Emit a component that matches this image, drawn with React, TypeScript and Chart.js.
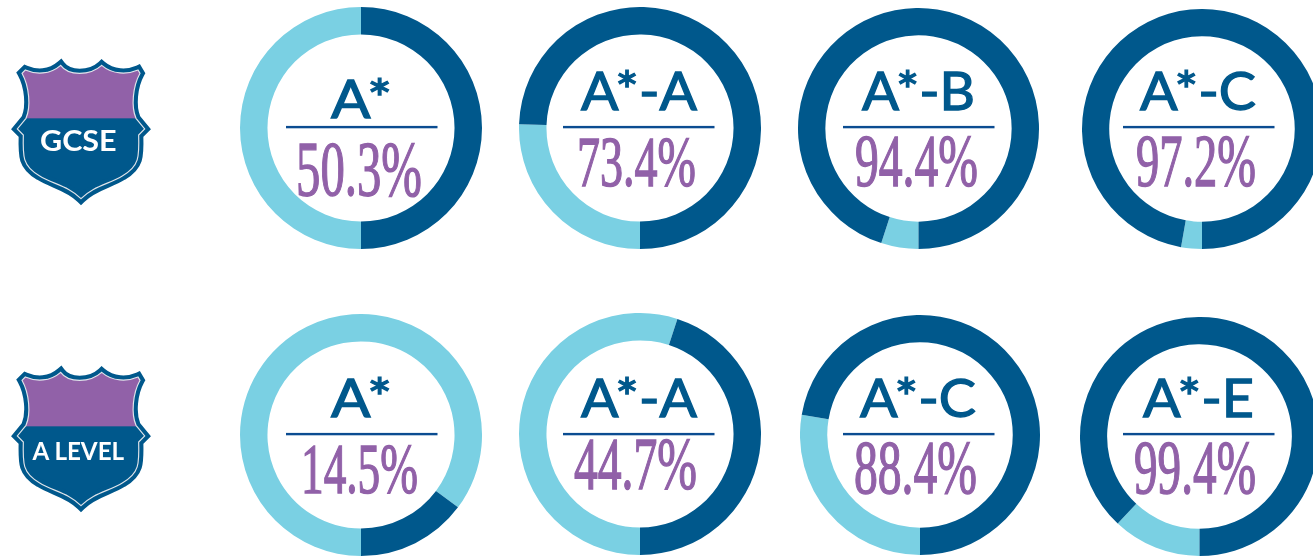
import React, { useEffect, useRef } from "react";
import { Chart, registerables } from "chart.js";

Chart.register(...registerables);

// ---- data ----
const gcseGrades = ["A*", "A*-A", "A*-B", "A*-C"];
const gcseLabels = ["50.3%", "73.4%", "94.4%", "97.2%"];
const gcseDarkShare = [50, 74.5, 95, 97.2];

const aLevelGrades = ["A*", "A*-A", "A*-C", "A*-E"];
const aLevelLabels = ["14.5%", "44.7%", "88.4%", "99.4%"];
const aLevelDarkShare = [14.8, 45, 72.3, 88];

const badgeNames = ["GCSE", "A LEVEL"];

// ---- layout and style ----
const DARK = "#00588c";
const LIGHT = "#7ad0e3";
const PURPLE = "#9161a8";
const RULE = "#0b4c91";

type Ring = {
  cx: number; cy: number; r: number;
  hx: number; hw: number; hb: number; hs: number;
  lx: number; ly: number;
  px: number; pw: number; pb: number; ps: number;
};

const gcseRings: Ring[] = [
  { cx: 360.5, cy: 128, r: 121, hx: 331, hw: 61, hb: 118, hs: 53, lx: 286, ly: 127, px: 296, pw: 126, pb: 195, ps: 79 },
  { cx: 640, cy: 128, r: 121, hx: 581, hw: 116, hb: 110, hs: 53, lx: 563, ly: 127, px: 577, pw: 119, pb: 186, ps: 72 },
  { cx: 918.5, cy: 128, r: 120.5, hx: 862, hw: 113, hb: 110, hs: 53, lx: 843, ly: 127, px: 855, pw: 123, pb: 186, ps: 74 },
  { cx: 1202, cy: 128.5, r: 120, hx: 1140, hw: 116, hb: 110, hs: 53, lx: 1123, ly: 127, px: 1136, pw: 120, pb: 186, ps: 74 },
];
const aLevelRings: Ring[] = [
  { cx: 360.5, cy: 435, r: 121, hx: 331, hw: 61, hb: 417, hs: 53, lx: 286, ly: 434, px: 301, pw: 117, pb: 493, ps: 72 },
  { cx: 640, cy: 434, r: 121, hx: 581, hw: 116, hb: 417, hs: 53, lx: 563, ly: 434, px: 574, pw: 123, pb: 489, ps: 74 },
  { cx: 920, cy: 435, r: 120, hx: 860, hw: 116, hb: 417, hs: 53, lx: 843, ly: 434, px: 854, pw: 123, pb: 493, ps: 76 },
  { cx: 1199.5, cy: 436, r: 119.5, hx: 1143, hw: 111, hb: 417, hs: 53, lx: 1123, ly: 434, px: 1134, pw: 122, pb: 493, ps: 76 },
];

function Donut({ share, ring }: { share: number; ring: Ring }) {
  const ref = useRef<HTMLCanvasElement | null>(null);
  useEffect(() => {
    const chart = new Chart(ref.current as HTMLCanvasElement, {
      type: "doughnut",
      data: {
        labels: ["Other", "Achieved"],
        datasets: [{ data: [100 - share, share], backgroundColor: [LIGHT, DARK], borderWidth: 0 }],
      },
      options: {
        animation: false,
        responsive: false,
        rotation: 180,
        cutout: "77.3%",
        layout: { padding: 0 },
        plugins: { legend: { display: false }, tooltip: { enabled: false } },
      },
    });
    return () => chart.destroy();
  }, [share]);
  const size = ring.r * 2;
  return (
    <canvas
      ref={ref}
      width={size}
      height={size}
      style={{ position: "absolute", left: ring.cx - ring.r, top: ring.cy - ring.r, width: size, height: size }}
    />
  );
}

const SHIELD =
  "M76 60 C108 74 150 74 182 46 C205 78 270 78 305 46 C338 74 382 74 414 60 L420 70 " +
  "C398 110 393 170 408 205 L434 237 L416 255 C418 320 418 348 368 377 C328 402 280 408 243 446 " +
  "C206 408 158 402 118 377 C68 348 68 320 70 255 L52 237 L78 205 C93 170 88 110 66 70 Z";

function Badge({ top, name, id, split, size, tw, base }: { top: number; name: string; id: string; split: number; size: number; tw: number; base: number }) {
  return (
    <svg viewBox="0 0 510 480" width={170} height={160} style={{ position: "absolute", left: 0, top }}>
      <defs>
        <clipPath id={id}>
          <path d={SHIELD} />
        </clipPath>
      </defs>
      <path d={SHIELD} fill={DARK} stroke={DARK} strokeWidth={28} strokeLinejoin="miter" />
      <rect x={0} y={0} width={510} height={split} fill={PURPLE} clipPath={`url(#${id})`} />
      <path d={SHIELD} fill="none" stroke="#dfe4ea" strokeWidth={3.5} />
      <text
        x={235}
        y={base}
        textAnchor="middle"
        textLength={tw}
        lengthAdjust="spacingAndGlyphs"
        fill="#ffffff"
        fontFamily="Lato"
        fontWeight={700}
        fontSize={size}
      >
        {name}
      </text>
    </svg>
  );
}

function Captions({ grades, labels, rings }: { grades: string[]; labels: string[]; rings: Ring[] }) {
  return (
    <>
      {rings.map((g, i) => (
        <React.Fragment key={i}>
          <text
            x={g.hx}
            y={g.hb}
            fill={DARK}
            stroke={DARK}
            strokeWidth={1.3}
            fontFamily="Lato"
            fontWeight={400}
            fontSize={g.hs}
            textLength={g.hw}
            lengthAdjust="spacingAndGlyphs"
          >
            {grades[i]}
          </text>
          <rect x={g.lx} y={g.ly - 1.1} width={151.5} height={2.4} fill={RULE} />
          <text
            x={g.px}
            y={g.pb}
            fill={PURPLE}
            stroke={PURPLE}
            strokeWidth={1.4}
            fontFamily="Liberation Serif"
            fontWeight={400}
            fontSize={g.ps}
            textLength={g.pw}
            lengthAdjust="spacingAndGlyphs"
          >
            {labels[i]}
          </text>
        </React.Fragment>
      ))}
    </>
  );
}

export default function App() {
  return (
    <div style={{ position: "fixed", left: 0, top: 0, width: 1313, height: 556, overflow: "hidden", background: "#ffffff" }}>
      {gcseRings.map((ring, i) => (
        <Donut key={`g${i}`} share={gcseDarkShare[i]} ring={ring} />
      ))}
      {aLevelRings.map((ring, i) => (
        <Donut key={`a${i}`} share={aLevelDarkShare[i]} ring={ring} />
      ))}
      <svg width={1313} height={556} style={{ position: "absolute", left: 0, top: 0 }}>
        <Captions grades={gcseGrades} labels={gcseLabels} rings={gcseRings} />
        <Captions grades={aLevelGrades} labels={aLevelLabels} rings={aLevelRings} />
      </svg>
      <Badge top={50} name={badgeNames[0]} id="clipG" split={205} size={84} tw={230} base={303} />
      <Badge top={356.5} name={badgeNames[1]} id="clipA" split={208} size={75} tw={275} base={309} />
    </div>
  );
}
